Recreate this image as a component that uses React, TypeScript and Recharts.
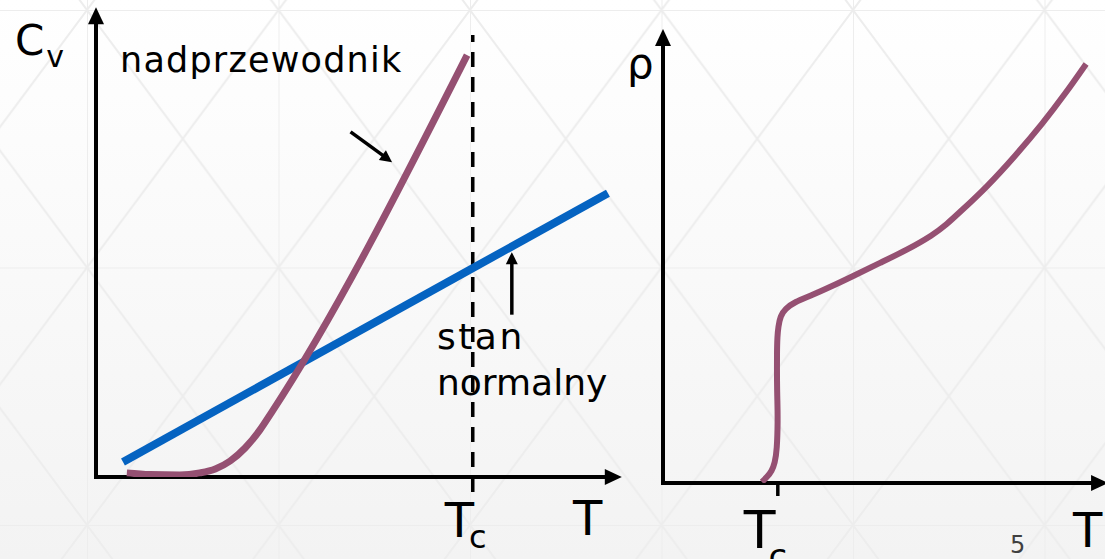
import React from 'react';
import { LineChart, Line, XAxis, YAxis, ReferenceLine } from 'recharts';

const W = 1105;
const H = 559;
const FONT = '"DejaVu Sans", Verdana, sans-serif';
const PURPLE = '#955072';
const BLUE = '#0563C1';

// ---- Left chart: heat capacity C_v(T) ----
const cvSuperT = [6.0, 10.5, 16.3, 20.2, 23.2, 26.1, 29.0, 31.9, 34.2, 72.2];
const cvSuperV = [0.9, 0.55, 0.45, 0.9, 1.75, 3.5, 6.35, 10.3, 14.2, 92.3];
const cvNormalT = [5.25, 99.6];
const cvNormalV = [3.3, 62.1];
const TC_LEFT = 73.3;
const TC_LEFT_SPAN = [-3.3, 96.7];
const LEFT_AXIS_TIP = { x: 102.3, y: 102.8 };
const arrowSuper = [
  { x: 49.8, y: 75.3 },
  { x: 57.6, y: 68.9 },
];
const arrowNormal = [
  { x: 80.9, y: 35.9 },
  { x: 80.9, y: 49.2 },
];

// ---- Right chart: resistivity rho(T) ----
const rhoT = [23.0, 24.2, 25.3, 26.0, 26.5, 26.7, 26.6, 26.5, 26.5, 26.6, 26.8, 27.3, 28.4, 30.7, 34.2, 38.8, 44.2, 50.5, 56.7, 62.8, 66.0, 69.1, 75.3, 81.9, 88.4, 93.5, 98.4];
const rhoV = [0.23, 1.35, 2.7, 4.5, 7.4, 14.2, 18.5, 22.6, 30.0, 33.0, 35.2, 37.7, 39.3, 40.9, 42.2, 44.2, 46.7, 49.7, 52.6, 56.0, 58.4, 61.2, 66.8, 73.8, 81.3, 87.8, 94.6];
const TC_RIGHT = 26.7;
const RIGHT_AXIS_TIP = { x: 103.5, y: 102.5 };

const superData = cvSuperT.map((t, i) => ({ t, v: cvSuperV[i] }));
const normalData = cvNormalT.map((t, i) => ({ t, v: cvNormalV[i] }));
const rhoData = rhoT.map((t, i) => ({ t, v: rhoV[i] }));

const makeArrow = (headLen: number, headHalf: number, width: number) => (p: any) => {
  const { x1, y1, x2, y2 } = p;
  const dx = x2 - x1;
  const dy = y2 - y1;
  const len = Math.sqrt(dx * dx + dy * dy) || 1;
  const ux = dx / len;
  const uy = dy / len;
  const bx = x2 - ux * headLen;
  const by = y2 - uy * headLen;
  const nx = -uy;
  const ny = ux;
  return (
    <g>
      <line x1={x1} y1={y1} x2={bx + ux} y2={by + uy} stroke="#000" strokeWidth={width} strokeLinecap="square" />
      <polygon
        points={`${x2},${y2} ${bx + nx * headHalf},${by + ny * headHalf} ${bx - nx * headHalf},${by - ny * headHalf}`}
        fill="#000"
      />
    </g>
  );
};

const axisArrow = makeArrow(17, 8, 4);
const noteArrow = makeArrow(12, 6, 3.5);

const txt = { fontFamily: FONT, fill: '#000' } as const;

const TcTickLeft = (p: any) => (
  <text x={p.x - 28} y={537} fontSize={48} {...txt}>
    T<tspan dx={-5} dy={11} fontSize={32}>c</tspan>
  </text>
);

const TcTickRight = (p: any) => (
  <text x={p.x - 34} y={548} fontSize={52} {...txt}>
    T<tspan dx={-7} dy={20} fontSize={34}>c</tspan>
  </text>
);

function Background() {
  return (
    <svg width={W} height={H} style={{ position: 'absolute', left: 0, top: 0 }}>
      <defs>
        <linearGradient id="bgGrad" x1="0" y1="0" x2="0" y2="1">
          <stop offset="0" stopColor="#ffffff" />
          <stop offset="1" stopColor="#f3f3f3" />
        </linearGradient>
        <pattern id="triPat" x={87} y={10} width={191.5} height={257.5} patternUnits="userSpaceOnUse">
          <path
            d="M0,0 H191.5 M0,0 V257.5 M0,0 L191.5,257.5 M191.5,0 L0,257.5"
            stroke="#ededed"
            strokeWidth={2}
            fill="none"
          />
        </pattern>
      </defs>
      <rect x={0} y={0} width={W} height={H} fill="url(#bgGrad)" />
      <rect x={0} y={0} width={W} height={H} fill="url(#triPat)" />
    </svg>
  );
}

export default function App() {
  return (
    <div style={{ position: 'absolute', left: 0, top: 0, width: W, height: H, overflow: 'hidden', fontFamily: FONT }}>
      <Background />
      {/* Left chart */}
      <div style={{ position: 'absolute', left: 0, top: 0 }}>
        <LineChart width={W} height={H} margin={{ left: 96, top: 20, right: 495, bottom: 42 }}>
          <XAxis
            type="number"
            dataKey="t"
            domain={[0, 100]}
            allowDataOverflow
            height={40}
            axisLine={false}
            tickLine={false}
            ticks={[TC_LEFT]}
            tick={TcTickLeft}
            interval={0}
          />
          <YAxis type="number" domain={[0, 100]} allowDataOverflow width={0} hide />
          <ReferenceLine
            segment={[{ x: 0, y: 0 }, { x: LEFT_AXIS_TIP.x, y: 0 }]}
            ifOverflow="visible"
            shape={axisArrow}
          />
          <ReferenceLine
            segment={[{ x: 0, y: 0 }, { x: 0, y: LEFT_AXIS_TIP.y }]}
            ifOverflow="visible"
            shape={axisArrow}
          />
          <ReferenceLine
            segment={[{ x: TC_LEFT, y: TC_LEFT_SPAN[0] }, { x: TC_LEFT, y: TC_LEFT_SPAN[1] }]}
            ifOverflow="visible"
            stroke="#000"
            strokeWidth={3.5}
            strokeDasharray="15 10"
          />
          <ReferenceLine segment={arrowSuper} ifOverflow="visible" shape={noteArrow} />
          <ReferenceLine segment={arrowNormal} ifOverflow="visible" shape={noteArrow} />
          <Line
            data={normalData}
            dataKey="v"
            type="linear"
            stroke={BLUE}
            strokeWidth={8}
            dot={false}
            isAnimationActive={false}
          />
          <Line
            data={superData}
            dataKey="v"
            type="monotone"
            stroke={PURPLE}
            strokeWidth={7}
            dot={false}
            isAnimationActive={false}
          />
          <text x={15} y={55} fontSize={42} {...txt}>
            C<tspan dx={2} dy={12} fontSize={30}>v</tspan>
          </text>
          <text x={120} y={72} fontSize={35} letterSpacing={1.2} {...txt}>nadprzewodnik</text>
          <text x={437} y={349} fontSize={36} letterSpacing={2.5} {...txt}>stan</text>
          <text x={437} y={395} fontSize={36} {...txt}>normalny</text>
          <text x={573} y={535} fontSize={48} {...txt}>T</text>
        </LineChart>
      </div>
      {/* Right chart */}
      <div style={{ position: 'absolute', left: 0, top: 0 }}>
        <LineChart width={W} height={H} margin={{ left: 663, top: 40, right: 12, bottom: 36 }}>
          <XAxis
            type="number"
            dataKey="t"
            domain={[0, 100]}
            allowDataOverflow
            height={40}
            axisLine={false}
            tickLine={{ stroke: '#000', strokeWidth: 3.5 }}
            tickSize={13}
            ticks={[TC_RIGHT]}
            tick={TcTickRight}
            interval={0}
          />
          <YAxis type="number" domain={[0, 100]} allowDataOverflow width={0} hide />
          <ReferenceLine
            segment={[{ x: 0, y: 0 }, { x: RIGHT_AXIS_TIP.x, y: 0 }]}
            ifOverflow="visible"
            shape={axisArrow}
          />
          <ReferenceLine
            segment={[{ x: 0, y: 0 }, { x: 0, y: RIGHT_AXIS_TIP.y }]}
            ifOverflow="visible"
            shape={axisArrow}
          />
          <Line
            data={rhoData}
            dataKey="v"
            type="basis"
            stroke={PURPLE}
            strokeWidth={6}
            strokeLinejoin="round"
            dot={false}
            isAnimationActive={false}
          />
          <text x={627} y={78} fontSize={42} {...txt}>ρ</text>
          <text x={1073} y={547} fontSize={48} {...txt}>T</text>
          <text x={1010} y={553} fontSize={24} fontFamily={FONT} fill="#404040">5</text>
        </LineChart>
      </div>
    </div>
  );
}
